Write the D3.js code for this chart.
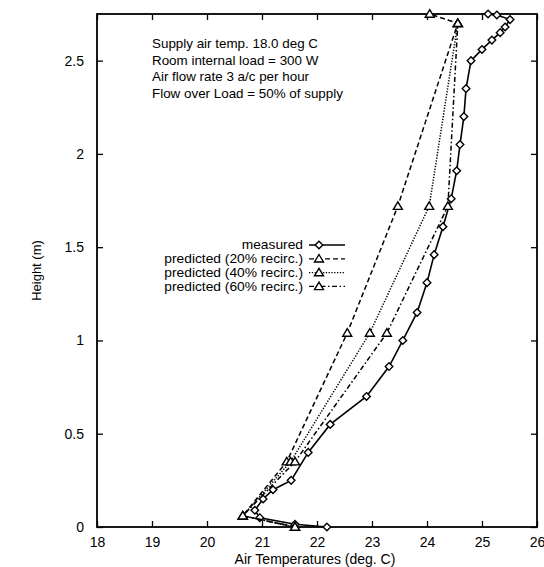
<html>
<head>
<meta charset="utf-8">
<style>
  body { margin: 0; background: #fff; }
  svg text { font-family: "Liberation Sans", Arial, sans-serif; fill: #000; }
  .axis text { font-size: 14px; }
  .axis path, .axis line { stroke: #000; }
</style>
</head>
<body>
<svg width="544" height="567"></svg>
<script src="https://d3js.org/d3.v7.min.js"></script>
<script>
var xTicks = [18, 19, 20, 21, 22, 23, 24, 25, 26];
var yTicks = [0, 0.5, 1, 1.5, 2, 2.5];

// measured profile (temperature, height)
var measuredT = [22.18, 21.6, 20.96, 20.87, 21.02, 21.2, 21.53, 21.84, 22.24, 22.9, 23.31, 23.56,
  23.82, 24.0, 24.13, 24.29, 24.44, 24.54, 24.6, 24.67, 24.71, 24.8,
  25.0, 25.18, 25.33, 25.42, 25.51, 25.27, 25.11];
var measuredH = [0, 0.015, 0.05, 0.09, 0.15, 0.2, 0.25, 0.4, 0.55, 0.7, 0.86, 1.0,
  1.15, 1.31, 1.46, 1.61, 1.76, 1.91, 2.05, 2.2, 2.35, 2.5,
  2.56, 2.61, 2.65, 2.68, 2.72, 2.745, 2.75];

var pred20T = [21.6, 20.65, 21.45, 22.55, 23.47, 24.56, 24.05];
var pred20H = [0, 0.06, 0.35, 1.04, 1.72, 2.70, 2.75];
var pred40T = [21.6, 20.65, 21.52, 22.96, 24.04, 24.56];
var pred40H = [0, 0.06, 0.35, 1.04, 1.72, 2.70];
var pred60T = [21.6, 20.65, 21.6, 23.27, 24.38, 24.56];
var pred60H = [0, 0.06, 0.35, 1.04, 1.72, 2.70];

var notes = ["Supply air temp. 18.0 deg C", "Room internal load = 300 W",
  "Air flow rate 3 a/c per hour", "Flow over Load = 50% of supply"];

var series = [
  {name: "measured", t: measuredT, h: measuredH, dash: null, mark: "diamond"},
  {name: "predicted (20% recirc.)", t: pred20T, h: pred20H, dash: "5,3", mark: "triangle"},
  {name: "predicted (40% recirc.)", t: pred40T, h: pred40H, dash: "1.3,1.5", mark: "triangle"},
  {name: "predicted (60% recirc.)", t: pred60T, h: pred60H, dash: "5,2.5,1.5,2.5", mark: "triangle"}
];

var svg = d3.select("svg");
var margin = {top: 14, right: 7, bottom: 40, left: 97};
var width = +svg.attr("width") - margin.left - margin.right;
var height = +svg.attr("height") - margin.top - margin.bottom;

var x = d3.scaleLinear().domain([18, 26]).range([0, width]);
var y = d3.scaleLinear().domain([0, 2.75]).range([height, 0]);

var g = svg.append("g").attr("transform", "translate(" + margin.left + "," + margin.top + ")");

// axes with inward ticks, mirrored
g.append("g").attr("class", "axis").attr("transform", "translate(0," + height + ")")
  .call(d3.axisBottom(x).tickValues(xTicks).tickSizeInner(-6).tickSizeOuter(0).tickPadding(10).tickFormat(d3.format("d")))
  .call(function(a) { a.select(".domain").remove(); });
g.append("g").attr("class", "axis")
  .call(d3.axisTop(x).tickValues(xTicks).tickSizeInner(-6).tickSizeOuter(0).tickFormat(""))
  .call(function(a) { a.select(".domain").remove(); });
g.append("g").attr("class", "axis")
  .call(d3.axisLeft(y).tickValues(yTicks).tickSizeInner(-6).tickSizeOuter(0).tickPadding(13).tickFormat(d3.format("")))
  .call(function(a) { a.select(".domain").remove(); });
g.append("g").attr("class", "axis").attr("transform", "translate(" + width + ",0)")
  .call(d3.axisRight(y).tickValues(yTicks).tickSizeInner(-6).tickSizeOuter(0).tickFormat(""))
  .call(function(a) { a.select(".domain").remove(); });
g.selectAll(".axis line").attr("stroke-width", 1.3);

g.append("rect").attr("width", width).attr("height", height)
  .attr("fill", "none").attr("stroke", "#000").attr("stroke-width", 1.8);

var line = d3.line().x(function(d) { return x(d[0]); }).y(function(d) { return y(d[1]); });

function marker(sel, kind) {
  if (kind === "diamond") {
    sel.append("path").attr("d", "M0,-3.8L3.8,0L0,3.8L-3.8,0Z");
  } else {
    sel.append("path").attr("d", "M0,-4.3L4.5,3.2L-4.5,3.2Z");
  }
  sel.select("path").attr("fill", "#fff").attr("stroke", "#000").attr("stroke-width", 1.4);
}

series.forEach(function(s) {
  var pts = d3.zip(s.t, s.h);
  g.append("path").datum(pts).attr("d", line)
    .attr("fill", "none").attr("stroke", "#000")
    .attr("stroke-width", s.dash ? 1.5 : 1.6)
    .attr("stroke-dasharray", s.dash);
  pts.forEach(function(p) {
    var m = g.append("g").attr("transform", "translate(" + x(p[0]) + "," + y(p[1]) + ")");
    marker(m, s.mark);
  });
});

// annotation
var note = g.append("text").attr("x", 55).attr("y", 34).style("font-size", "13.4px");
notes.forEach(function(t, i) {
  note.append("tspan").attr("x", 55).attr("dy", i === 0 ? 0 : 16.5).text(t);
});

// legend
var legend = g.append("g").attr("transform", "translate(206,231)");
series.forEach(function(s, i) {
  var row = legend.append("g").attr("transform", "translate(0," + (i * 13.8) + ")");
  row.append("text").attr("text-anchor", "end").attr("transform", "scale(1.15,1)")
    .attr("y", 4.3).style("font-size", "12px").text(s.name);
  row.append("line").attr("x1", 6).attr("x2", 42).attr("stroke", "#000")
    .attr("stroke-width", s.dash ? 1.3 : 1.6).attr("stroke-dasharray", s.dash);
  var m = row.append("g").attr("transform", "translate(16,0)");
  marker(m, s.mark);
});

svg.append("text").attr("x", margin.left + width / 2 - 2).attr("y", 564)
  .attr("text-anchor", "middle").style("font-size", "14px").text("Air Temperatures (deg. C)");
svg.append("text").attr("transform", "translate(41," + (margin.top + height / 2) + ") rotate(-90)")
  .attr("text-anchor", "middle").style("font-size", "13px").text("Height (m)");
</script>
</body>
</html>
